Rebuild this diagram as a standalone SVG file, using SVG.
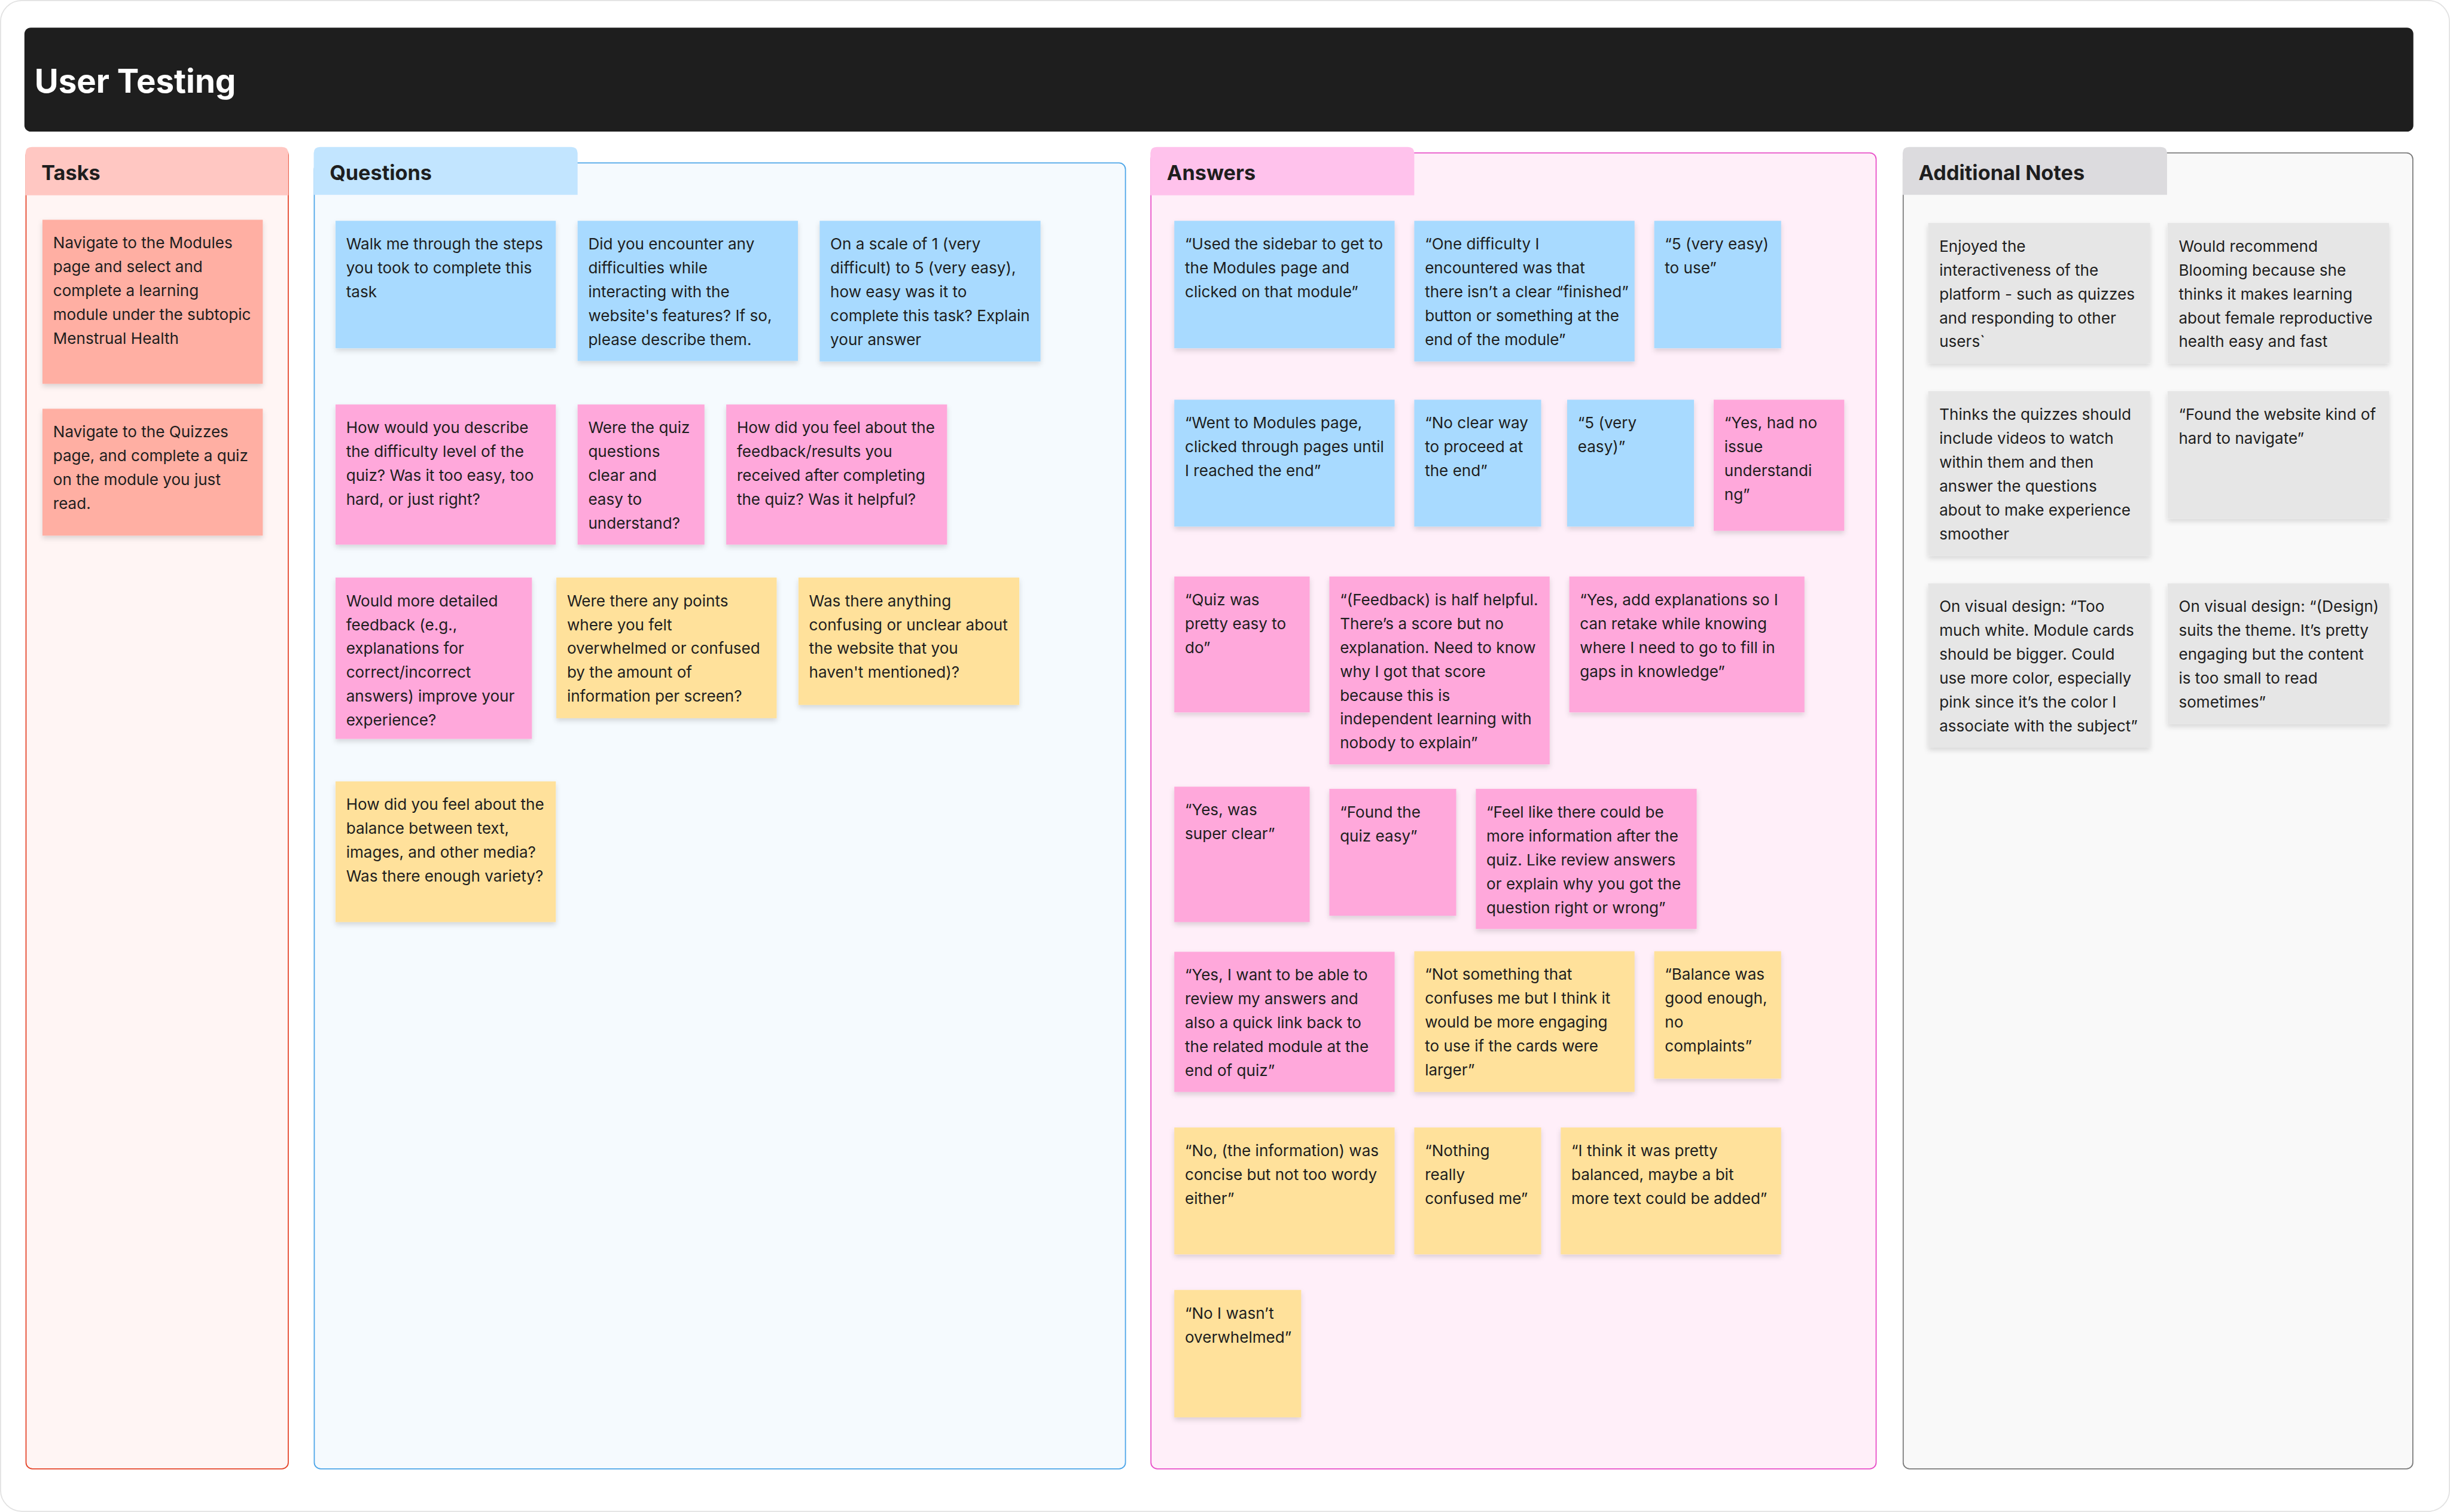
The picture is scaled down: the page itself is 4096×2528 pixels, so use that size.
<svg xmlns="http://www.w3.org/2000/svg" width="4096" height="2528" viewBox="0 0 4096 2528">
<defs>
<style>
.t{font-family:Inter,"Liberation Sans",sans-serif;font-size:29.4px;fill:#1E1E1E}
.h{font-family:Inter,"Liberation Sans",sans-serif;font-size:38.6px;font-weight:700;fill:#1E1E1E}
.sa{fill:#FFAFA3}.sb{fill:#A8DAFF}.sp{fill:#FFA8DB}.sy{fill:#FFE19B}.sg{fill:#E6E6E6}
.st{filter:url(#sh)}
</style>
<filter id="sh" x="-10%" y="-10%" width="120%" height="130%">
<feDropShadow dx="0" dy="5" stdDeviation="5" flood-color="#000" flood-opacity="0.14"/>
</filter>
</defs>
<rect width="4096" height="2528" fill="#ffffff"/>
<g transform="scale(0.88754)">
<rect x="1" y="1" width="4613" height="2846" rx="40" fill="#ffffff" stroke="#E2E2E2" stroke-width="2"/>
<g id="title">
<rect x="46" y="52" width="4500" height="196" rx="12" fill="#1E1E1E"/>
<text x="65" y="175" font-family="Inter,'Liberation Sans',sans-serif" font-size="61.5" font-weight="700" fill="#ffffff">User Testing</text>
</g>

<g id="col-tasks">
<rect x="49" y="280" width="494" height="2487" rx="12" fill="#FFF5F4" stroke="#E5452A" stroke-width="2"/>
<path d="M48 368 V289 Q48 277 60 277 H531 Q543 277 543 289 V368 Z" fill="#FFC7C2"/>
<text class="h" x="78" y="339">Tasks</text>
</g>
<g id="col-questions">
<rect x="592" y="307" width="1528" height="2460" rx="12" fill="#F5FAFE" stroke="#4BA5E8" stroke-width="2"/>
<path d="M591 367 V289 Q591 277 603 277 H1076 Q1088 277 1088 289 V367 Z" fill="#C2E5FF"/>
<text class="h" x="621" y="339">Questions</text>
</g>
<g id="col-answers">
<rect x="2168" y="288" width="1366" height="2479" rx="12" fill="#FFEFF9" stroke="#E84FC8" stroke-width="2"/>
<path d="M2167 368 V289 Q2167 277 2179 277 H2652 Q2664 277 2664 289 V368 Z" fill="#FFC2EC"/>
<text class="h" x="2198" y="339">Answers</text>
</g>
<g id="col-notes">
<rect x="3585" y="288" width="960" height="2479" rx="12" fill="#F9F9F9" stroke="#7A7A7A" stroke-width="2"/>
<path d="M3584 367 V289 Q3584 277 3596 277 H4070 Q4082 277 4082 289 V367 Z" fill="#DCDBDE"/>
<text class="h" x="3614" y="339">Additional Notes</text>
</g>

<!-- Tasks -->
<g id="t1"><rect class="sa st" x="80" y="414" width="415" height="309"/><text class="t" x="100" y="468"><tspan x="100">Navigate to the Modules</tspan><tspan x="100" dy="45">page and select and</tspan><tspan x="100" dy="45">complete a learning</tspan><tspan x="100" dy="45">module under the subtopic</tspan><tspan x="100" dy="45">Menstrual Health</tspan></text></g>
<g id="t2"><rect class="sa st" x="80" y="770" width="415" height="239"/><text class="t" x="100" y="824"><tspan x="100">Navigate to the Quizzes</tspan><tspan x="100" dy="45">page, and complete a quiz</tspan><tspan x="100" dy="45">on the module you just</tspan><tspan x="100" dy="45">read.</tspan></text></g>

<!-- Questions -->
<g id="q1"><rect class="sb st" x="632" y="416" width="415" height="240"/><text class="t" y="470"><tspan x="652">Walk me through the steps</tspan><tspan x="652" dy="45">you took to complete this</tspan><tspan x="652" dy="45">task</tspan></text></g>
<g id="q2"><rect class="sb st" x="1088" y="416" width="415" height="264"/><text class="t" y="470"><tspan x="1108">Did you encounter any</tspan><tspan x="1108" dy="45">difficulties while</tspan><tspan x="1108" dy="45">interacting with the</tspan><tspan x="1108" dy="45">website's features? If so,</tspan><tspan x="1108" dy="45">please describe them.</tspan></text></g>
<g id="q3"><rect class="sb st" x="1544" y="416" width="416" height="265"/><text class="t" y="470"><tspan x="1564">On a scale of 1 (very</tspan><tspan x="1564" dy="45">difficult) to 5 (very easy),</tspan><tspan x="1564" dy="45">how easy was it to</tspan><tspan x="1564" dy="45">complete this task? Explain</tspan><tspan x="1564" dy="45">your answer</tspan></text></g>
<g id="q4"><rect class="sp st" x="632" y="762" width="415" height="264"/><text class="t" y="816"><tspan x="652">How would you describe</tspan><tspan x="652" dy="45">the difficulty level of the</tspan><tspan x="652" dy="45">quiz? Was it too easy, too</tspan><tspan x="652" dy="45">hard, or just right?</tspan></text></g>
<g id="q5"><rect class="sp st" x="1088" y="762" width="239" height="264"/><text class="t" y="816"><tspan x="1108">Were the quiz</tspan><tspan x="1108" dy="45">questions</tspan><tspan x="1108" dy="45">clear and</tspan><tspan x="1108" dy="45">easy to</tspan><tspan x="1108" dy="45">understand?</tspan></text></g>
<g id="q6"><rect class="sp st" x="1368" y="762" width="416" height="264"/><text class="t" y="816"><tspan x="1388">How did you feel about the</tspan><tspan x="1388" dy="45">feedback/results you</tspan><tspan x="1388" dy="45">received after completing</tspan><tspan x="1388" dy="45">the quiz? Was it helpful?</tspan></text></g>
<g id="q7"><rect class="sp st" x="632" y="1088" width="370" height="304"/><text class="t" y="1142"><tspan x="652">Would more detailed</tspan><tspan x="652" dy="45">feedback (e.g.,</tspan><tspan x="652" dy="45">explanations for</tspan><tspan x="652" dy="45">correct/incorrect</tspan><tspan x="652" dy="45">answers) improve your</tspan><tspan x="652" dy="45">experience?</tspan></text></g>
<g id="q8"><rect class="sy st" x="1048" y="1088" width="415" height="265"/><text class="t" y="1142"><tspan x="1068">Were there any points</tspan><tspan x="1068" dy="45">where you felt</tspan><tspan x="1068" dy="45">overwhelmed or confused</tspan><tspan x="1068" dy="45">by the amount of</tspan><tspan x="1068" dy="45">information per screen?</tspan></text></g>
<g id="q9"><rect class="sy st" x="1504" y="1088" width="416" height="240"/><text class="t" y="1142"><tspan x="1524">Was there anything</tspan><tspan x="1524" dy="45">confusing or unclear about</tspan><tspan x="1524" dy="45">the website that you</tspan><tspan x="1524" dy="45">haven't mentioned)?</tspan></text></g>
<g id="q10"><rect class="sy st" x="632" y="1472" width="415" height="265"/><text class="t" y="1526"><tspan x="652">How did you feel about the</tspan><tspan x="652" dy="45">balance between text,</tspan><tspan x="652" dy="45">images, and other media?</tspan><tspan x="652" dy="45">Was there enough variety?</tspan></text></g>

<!-- Answers -->
<g id="a1"><rect class="sb st" x="2212" y="416" width="415" height="240"/><text class="t" y="470"><tspan x="2232">“Used the sidebar to get to</tspan><tspan x="2232" dy="45">the Modules page and</tspan><tspan x="2232" dy="45">clicked on that module”</tspan></text></g>
<g id="a2"><rect class="sb st" x="2664" y="416" width="415" height="265"/><text class="t" y="470"><tspan x="2684">“One difficulty I</tspan><tspan x="2684" dy="45">encountered was that</tspan><tspan x="2684" dy="45">there isn’t a clear “finished”</tspan><tspan x="2684" dy="45">button or something at the</tspan><tspan x="2684" dy="45">end of the module”</tspan></text></g>
<g id="a3"><rect class="sb st" x="3116" y="416" width="239" height="240"/><text class="t" y="470"><tspan x="3136">“5 (very easy)</tspan><tspan x="3136" dy="45">to use”</tspan></text></g>
<g id="a4"><rect class="sb st" x="2212" y="753" width="415" height="239"/><text class="t" y="807"><tspan x="2232">“Went to Modules page,</tspan><tspan x="2232" dy="45">clicked through pages until</tspan><tspan x="2232" dy="45">I reached the end”</tspan></text></g>
<g id="a5"><rect class="sb st" x="2664" y="753" width="239" height="239"/><text class="t" y="807"><tspan x="2684">“No clear way</tspan><tspan x="2684" dy="45">to proceed at</tspan><tspan x="2684" dy="45">the end”</tspan></text></g>
<g id="a6"><rect class="sb st" x="2952" y="753" width="239" height="239"/><text class="t" y="807"><tspan x="2972">“5 (very</tspan><tspan x="2972" dy="45">easy)”</tspan></text></g>
<g id="a7"><rect class="sp st" x="3228" y="753" width="246" height="247"/><text class="t" y="807"><tspan x="3248">“Yes, had no</tspan><tspan x="3248" dy="45">issue</tspan><tspan x="3248" dy="45">understandi</tspan><tspan x="3248" dy="45">ng”</tspan></text></g>
<g id="a8"><rect class="sp st" x="2212" y="1086" width="255" height="256"/><text class="t" y="1140"><tspan x="2232">“Quiz was</tspan><tspan x="2232" dy="45">pretty easy to</tspan><tspan x="2232" dy="45">do”</tspan></text></g>
<g id="a9"><rect class="sp st" x="2504" y="1086" width="415" height="354"/><text class="t" y="1140"><tspan x="2524">“(Feedback) is half helpful.</tspan><tspan x="2524" dy="45">There’s a score but no</tspan><tspan x="2524" dy="45">explanation. Need to know</tspan><tspan x="2524" dy="45">why I got that score</tspan><tspan x="2524" dy="45">because this is</tspan><tspan x="2524" dy="45">independent learning with</tspan><tspan x="2524" dy="45">nobody to explain”</tspan></text></g>
<g id="a10"><rect class="sp st" x="2956" y="1086" width="443" height="256"/><text class="t" y="1140"><tspan x="2976">“Yes, add explanations so I</tspan><tspan x="2976" dy="45">can retake while knowing</tspan><tspan x="2976" dy="45">where I need to go to fill in</tspan><tspan x="2976" dy="45">gaps in knowledge”</tspan></text></g>
<g id="a11"><rect class="sp st" x="2212" y="1482" width="255" height="255"/><text class="t" y="1536"><tspan x="2232">“Yes, was</tspan><tspan x="2232" dy="45">super clear”</tspan></text></g>
<g id="a12"><rect class="sp st" x="2504" y="1486" width="239" height="239"/><text class="t" y="1540"><tspan x="2524">“Found the</tspan><tspan x="2524" dy="45">quiz easy”</tspan></text></g>
<g id="a13"><rect class="sp st" x="2780" y="1486" width="416" height="264"/><text class="t" y="1540"><tspan x="2800">“Feel like there could be</tspan><tspan x="2800" dy="45">more information after the</tspan><tspan x="2800" dy="45">quiz. Like review answers</tspan><tspan x="2800" dy="45">or explain why you got the</tspan><tspan x="2800" dy="45">question right or wrong”</tspan></text></g>
<g id="a14"><rect class="sp st" x="2212" y="1793" width="415" height="264"/><text class="t" y="1847"><tspan x="2232">“Yes, I want to be able to</tspan><tspan x="2232" dy="45">review my answers and</tspan><tspan x="2232" dy="45">also a quick link back to</tspan><tspan x="2232" dy="45">the related module at the</tspan><tspan x="2232" dy="45">end of quiz”</tspan></text></g>
<g id="a15"><rect class="sy st" x="2664" y="1792" width="415" height="265"/><text class="t" y="1846"><tspan x="2684">“Not something that</tspan><tspan x="2684" dy="45">confuses me but I think it</tspan><tspan x="2684" dy="45">would be more engaging</tspan><tspan x="2684" dy="45">to use if the cards were</tspan><tspan x="2684" dy="45">larger”</tspan></text></g>
<g id="a16"><rect class="sy st" x="3116" y="1792" width="239" height="240"/><text class="t" y="1846"><tspan x="3136">“Balance was</tspan><tspan x="3136" dy="45">good enough,</tspan><tspan x="3136" dy="45">no</tspan><tspan x="3136" dy="45">complaints”</tspan></text></g>
<g id="a17"><rect class="sy st" x="2212" y="2124" width="415" height="239"/><text class="t" y="2178"><tspan x="2232">“No, (the information) was</tspan><tspan x="2232" dy="45">concise but not too wordy</tspan><tspan x="2232" dy="45">either”</tspan></text></g>
<g id="a18"><rect class="sy st" x="2664" y="2124" width="239" height="239"/><text class="t" y="2178"><tspan x="2684">“Nothing</tspan><tspan x="2684" dy="45">really</tspan><tspan x="2684" dy="45">confused me”</tspan></text></g>
<g id="a19"><rect class="sy st" x="2940" y="2124" width="415" height="239"/><text class="t" y="2178"><tspan x="2960">“I think it was pretty</tspan><tspan x="2960" dy="45">balanced, maybe a bit</tspan><tspan x="2960" dy="45">more text could be added”</tspan></text></g>
<g id="a20"><rect class="sy st" x="2212" y="2430" width="239" height="240"/><text class="t" y="2484"><tspan x="2232">“No I wasn’t</tspan><tspan x="2232" dy="45">overwhelmed”</tspan></text></g>

<!-- Additional Notes -->
<g id="n1"><rect class="sg st" x="3632" y="420" width="418" height="264"/><text class="t" y="474"><tspan x="3653">Enjoyed the</tspan><tspan x="3653" dy="45">interactiveness of the</tspan><tspan x="3653" dy="45">platform - such as quizzes</tspan><tspan x="3653" dy="45">and responding to other</tspan><tspan x="3653" dy="45">users`</tspan></text></g>
<g id="n2"><rect class="sg st" x="4083" y="420" width="417" height="264"/><text class="t" y="474"><tspan x="4104">Would recommend</tspan><tspan x="4104" dy="45">Blooming because she</tspan><tspan x="4104" dy="45">thinks it makes learning</tspan><tspan x="4104" dy="45">about female reproductive</tspan><tspan x="4104" dy="45">health easy and fast</tspan></text></g>
<g id="n3"><rect class="sg st" x="3632" y="737" width="418" height="310"/><text class="t" y="791"><tspan x="3653">Thinks the quizzes should</tspan><tspan x="3653" dy="45">include videos to watch</tspan><tspan x="3653" dy="45">within them and then</tspan><tspan x="3653" dy="45">answer the questions</tspan><tspan x="3653" dy="45">about to make experience</tspan><tspan x="3653" dy="45">smoother</tspan></text></g>
<g id="n4"><rect class="sg st" x="4083" y="737" width="417" height="240"/><text class="t" y="791"><tspan x="4104">“Found the website kind of</tspan><tspan x="4104" dy="45">hard to navigate”</tspan></text></g>
<g id="n5"><rect class="sg st" x="3632" y="1099" width="418" height="309"/><text class="t" y="1153"><tspan x="3653">On visual design: “Too</tspan><tspan x="3653" dy="45">much white. Module cards</tspan><tspan x="3653" dy="45">should be bigger. Could</tspan><tspan x="3653" dy="45">use more color, especially</tspan><tspan x="3653" dy="45">pink since it’s the color I</tspan><tspan x="3653" dy="45">associate with the subject”</tspan></text></g>
<g id="n6"><rect class="sg st" x="4083" y="1099" width="417" height="265"/><text class="t" y="1153"><tspan x="4104">On visual design: “(Design)</tspan><tspan x="4104" dy="45">suits the theme. It’s pretty</tspan><tspan x="4104" dy="45">engaging but the content</tspan><tspan x="4104" dy="45">is too small to read</tspan><tspan x="4104" dy="45">sometimes”</tspan></text></g>
</g>
</svg>
